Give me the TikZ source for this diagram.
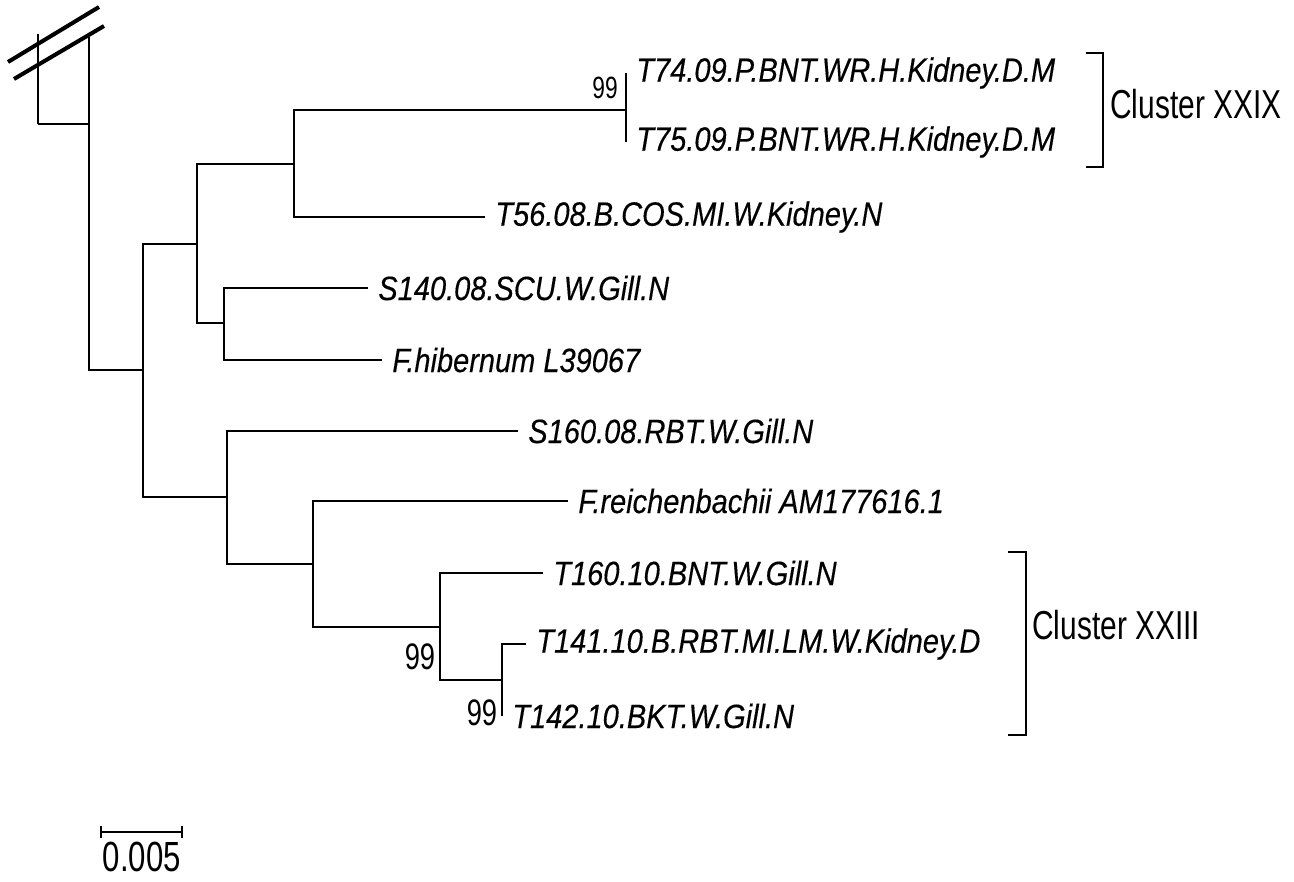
\documentclass[tikz,border=0pt]{standalone}
\usepackage{fontspec}
\setmainfont{Liberation Sans}
\newfontfamily\taxfont[FakeStretch=0.86, FakeBold=0.3]{Liberation Sans}
\newfontfamily\narrowfont[FakeStretch=0.74]{Liberation Sans}
\usepackage{tikz}
\usetikzlibrary{positioning, calc}

\begin{document}
\begin{tikzpicture}[
  branch/.style={line width=0.75pt, black},
  leaf/.style={anchor=west, inner xsep=0.2cm, inner ysep=0pt,
    font=\taxfont\itshape\fontsize{19.2}{21}\selectfont},
  boot/.style={inner sep=0pt, font=\narrowfont\fontsize{21}{22}\selectfont},
  cluster/.style={anchor=west, inner sep=0pt, font=\narrowfont\fontsize{23}{24}\selectfont}
]

% --- Page frame ---
\useasboundingbox (0, 0) rectangle (25.88, -17.64);

% --- Root and broken outgroup branch ---
\coordinate (root) at (0.76, -2.48);
\coordinate (brk0) at (0.76, -0.68);
\coordinate (r1)   at (1.78, -2.48);
\coordinate (brk1) at (1.78, -0.74);

% --- Internal nodes ---
\coordinate (A) at (2.86, -7.40);
\coordinate (B) at (3.94, -4.88);
\coordinate (C) at (5.88, -3.28);
\coordinate (D) at (12.52, -2.20);
\coordinate (E) at (4.48, -6.46);
\coordinate (F) at (4.54, -9.94);
\coordinate (G) at (6.26, -11.28);
\coordinate (H) at (8.80, -12.54);
\coordinate (I) at (10.04, -13.60);

% --- Taxa ---
\node[leaf] (t74)  at (12.52, -1.46) {T74.09.P.BNT.WR.H.Kidney.D.M};
\node[leaf] (t75)  at (12.52, -2.84) {T75.09.P.BNT.WR.H.Kidney.D.M};
\node[leaf] (t56)  at (9.70, -4.34)  {T56.08.B.COS.MI.W.Kidney.N};
\node[leaf] (s140) at (7.36, -5.76)  {S140.08.SCU.W.Gill.N};
\node[leaf] (fhib) at (7.64, -7.20)  {F.hibernum L39067};
\node[leaf] (s160) at (10.36, -8.62) {S160.08.RBT.W.Gill.N};
\node[leaf] (frei) at (11.36, -10.02) {F.reichenbachii AM177616.1};
\node[leaf] (t160) at (10.86, -11.46) {T160.10.BNT.W.Gill.N};
\node[leaf] (t141) at (10.52, -12.88) {T141.10.B.RBT.MI.LM.W.Kidney.D};
\node[leaf] (t142) at (10.04, -14.32) {T142.10.BKT.W.Gill.N};

% --- Branches ---
\draw[branch] (root) -- (brk0);
\draw[branch] (root) -- (r1);
\draw[branch] (r1) -- (brk1);
\draw[branch] (r1) |- (A);
\draw[branch] (A) |- (B);
\draw[branch] (A) |- (F);
\draw[branch] (B) |- (C);
\draw[branch] (B) |- (E);
\draw[branch] (C) |- (D);
\draw[branch] (C) |- (t56.west);
\draw[branch] (D) |- (t74.west);
\draw[branch] (D) |- (t75.west);
\draw[branch] (E) |- (s140.west);
\draw[branch] (E) |- (fhib.west);
\draw[branch] (F) |- (s160.west);
\draw[branch] (F) |- (G);
\draw[branch] (G) |- (frei.west);
\draw[branch] (G) |- (H);
\draw[branch] (H) |- (t160.west);
\draw[branch] (H) |- (I);
\draw[branch] (I) |- (t141.west);
\draw[branch] (I) |- (t142.west);

% --- Break marks ---
\coordinate (sl1a) at (0.16, -1.24);
\coordinate (sl1b) at (1.98, -0.14);
\coordinate (sl2a) at (0.28, -1.58);
\coordinate (sl2b) at (2.08, -0.52);
\draw[line width=2.3pt] (sl1a) -- (sl1b);
\draw[line width=2.3pt] (sl2a) -- (sl2b);

% --- Bootstrap values ---
\node[boot, font=\narrowfont\fontsize{17.5}{18}\selectfont] (bs1) at (12.10, -1.76) {99};
\node[boot] (bs2) at (8.40, -13.14) {99};
\node[boot] (bs3) at (9.64, -14.26) {99};

% --- Cluster brackets ---
\coordinate (c29a) at (21.72, -1.06);
\coordinate (c29b) at (22.06, -1.06);
\coordinate (c29c) at (22.06, -3.34);
\coordinate (c29d) at (21.72, -3.34);
\draw[branch] (c29a) -- (c29b) -- (c29c) -- (c29d);
\node[cluster] (xxix) at (22.20, -2.08) {Cluster XXIX};

\coordinate (c23a) at (20.16, -11.04);
\coordinate (c23b) at (20.52, -11.04);
\coordinate (c23c) at (20.52, -14.70);
\coordinate (c23d) at (20.16, -14.70);
\draw[branch] (c23a) -- (c23b) -- (c23c) -- (c23d);
\node[cluster] (xxiii) at (20.64, -12.50) {Cluster XXIII};

% --- Scale bar ---
\coordinate (sbL) at (2.02, -16.64);
\coordinate (sbR) at (3.64, -16.64);
\draw[branch] (sbL) -- (sbR);
\draw[branch] ($(sbL)+(0,0.12)$) -- ($(sbL)-(0,0.12)$);
\draw[branch] ($(sbR)+(0,0.12)$) -- ($(sbR)-(0,0.12)$);
\node[boot, font=\narrowfont\fontsize{24}{25}\selectfont] (sblab) at (2.84, -17.14) {0.005};

\end{tikzpicture}
\end{document}
